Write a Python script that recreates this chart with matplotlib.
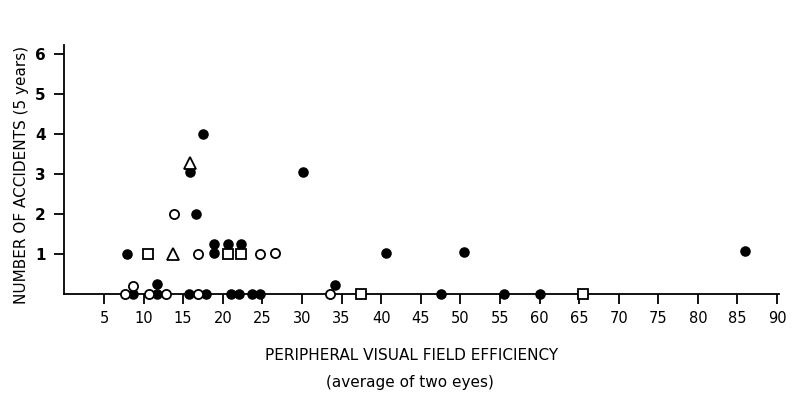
import matplotlib.pyplot as plt

# drivers: peripheral visual field efficiency vs. accidents in 5 years
filled_x = [17.5, 15.8, 30.1, 16.65, 7.9, 18.9, 18.9, 20.7, 22.3,
            8.6, 11.7, 11.7, 15.7, 17.9, 21.0, 22.0, 23.7, 24.7,
            40.6, 50.5, 34.2, 47.5, 55.5, 60.0, 86.0]
filled_y = [4.0, 3.04, 3.04, 2.0, 1.0, 1.25, 1.03, 1.25, 1.25,
            0, 0.24, 0, 0, 0, 0, 0, 0, 0,
            1.02, 1.04, 0.22, 0, 0, 0, 1.08]

open_x = [13.8, 16.9, 24.7, 26.6, 7.65, 8.6, 10.7, 12.8, 16.9, 33.5]
open_y = [2.0, 1.0, 1.0, 1.03, 0, 0.2, 0, 0, 0, 0]

square_x = [10.5, 20.7, 22.3, 37.5, 65.5]
square_y = [1.0, 1.0, 1.0, 0, 0]

tri_x = [15.8, 13.75]
tri_y = [3.27, 1.0]

x_ticks = list(range(5, 95, 5))
y_ticks = [1, 2, 3, 4, 5, 6]

fig = plt.figure(figsize=(8.01, 4.03), dpi=100)
ax = fig.add_axes([0.0804, 0.2705, 0.8927, 0.618])

common = dict(linestyle="none", clip_on=False, zorder=5)
ax.plot(filled_x, filled_y, marker="o", markersize=7.6, color="black",
        markeredgewidth=0, **common)
ax.plot(open_x, open_y, marker="o", markersize=6.6, markerfacecolor="white",
        markeredgecolor="black", markeredgewidth=1.3, **common)
ax.plot(square_x, square_y, marker="s", markersize=7.0, markerfacecolor="white",
        markeredgecolor="black", markeredgewidth=1.3, **common)
ax.plot(tri_x, tri_y, marker="^", markersize=8.0, markerfacecolor="white",
        markeredgecolor="black", markeredgewidth=1.3, **common)

ax.set_xlim(0, 90.3)
ax.set_ylim(0, 6.225)
ax.set_xticks(x_ticks)
ax.set_yticks(y_ticks)
ax.tick_params(axis="both", direction="out", length=7.5, width=1.3,
               labelsize=10.5, colors="black")
ax.tick_params(axis="x", pad=5)
ax.tick_params(axis="y", pad=6)
for lab in ax.get_yticklabels():
    lab.set_fontweight("bold")
    lab.set_fontsize(11)

ax.spines["right"].set_visible(False)
ax.spines["top"].set_visible(False)
ax.spines["left"].set_linewidth(1.3)
ax.spines["bottom"].set_linewidth(1.3)

ax.set_ylabel("NUMBER OF ACCIDENTS (5 years)", fontsize=11)
ax.yaxis.set_label_coords(-0.05, 0.48)

fig.text(0.514, 0.119, "PERIPHERAL VISUAL FIELD EFFICIENCY",
         ha="center", va="center", fontsize=11)
fig.text(0.512, 0.05, "(average of two eyes)",
         ha="center", va="center", fontsize=11)

fig.savefig("out.png", dpi=100, facecolor="white")
